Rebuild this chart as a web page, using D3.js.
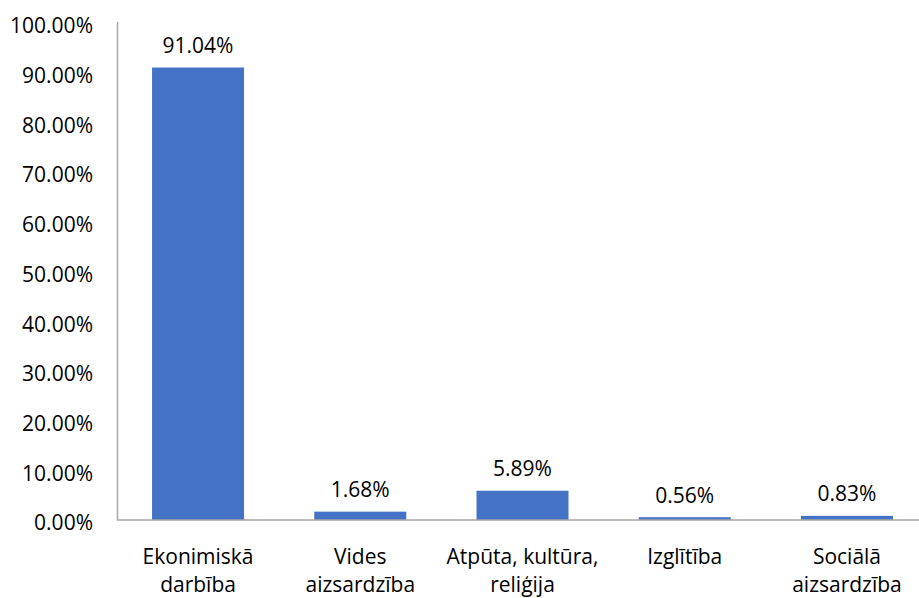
<!DOCTYPE html>
<html>
<head>
<meta charset="utf-8">
<script src="https://d3js.org/d3.v7.min.js"></script>
<style>
body { margin: 0; background: #fff; }
text { font-family: "Open Sans", "Liberation Sans", sans-serif; fill: #000; }
</style>
</head>
<body>
<svg id="chart" width="919" height="598"></svg>
<script>
// data
var categories = [["Ekonimiskā", "darbība"], ["Vides", "aizsardzība"], ["Atpūta, kultūra,", "reliģija"], ["Izglītība"], ["Sociālā", "aizsardzība"]];
var values = [0.9104, 0.0168, 0.0589, 0.0056, 0.0083];
var yTicks = [0, 0.1, 0.2, 0.3, 0.4, 0.5, 0.6, 0.7, 0.8, 0.9, 1.0];

var svg = d3.select("#chart");

var x = d3.scaleBand()
  .domain(d3.range(values.length))
  .range([117, 928])
  .paddingInner(0.433)
  .paddingOuter(0.216);

var y = d3.scaleLinear()
  .domain([0, 1])
  .range([520, 23]);

var pct = d3.format(".2%");

// y axis labels
svg.append("g").selectAll("text")
  .data(yTicks)
  .enter().append("text")
    .attr("x", 93)
    .attr("y", function(d) { return y(d) + 3; })
    .attr("dy", "0.35em")
    .attr("text-anchor", "end")
    .attr("font-size", "21px")
    .text(function(d) { return pct(d); });

// bars
svg.append("g").selectAll("rect")
  .data(values)
  .enter().append("rect")
    .attr("x", function(d, i) { return x(i); })
    .attr("y", function(d) { return y(d); })
    .attr("width", x.bandwidth())
    .attr("height", function(d) { return y(0) - y(d); })
    .attr("fill", "#4472C4");

// value labels
svg.append("g").selectAll("text")
  .data(values)
  .enter().append("text")
    .attr("x", function(d, i) { return x(i) + x.bandwidth() / 2; })
    .attr("y", function(d) { return y(d) - 22; })
    .attr("dy", "0.35em")
    .attr("text-anchor", "middle")
    .attr("font-size", "21px")
    .text(function(d) { return pct(d); });

// axis lines
svg.append("line")
  .attr("x1", 117.5).attr("x2", 117.5)
  .attr("y1", 22).attr("y2", y(0))
  .attr("stroke", "#a6a6a6").attr("stroke-width", 1.5);
svg.append("line")
  .attr("x1", 117).attr("x2", 919)
  .attr("y1", y(0)).attr("y2", y(0))
  .attr("stroke", "#a6a6a6").attr("stroke-width", 1.5);

// category labels
var cat = svg.append("g").selectAll("text")
  .data(categories)
  .enter().append("text")
    .attr("text-anchor", "middle")
    .attr("font-size", "21px")
    .attr("x", function(d, i) { return x(i) + x.bandwidth() / 2; })
    .attr("y", 557);
cat.selectAll("tspan")
  .data(function(d) { return d; })
  .enter().append("tspan")
    .attr("x", function() { return d3.select(this.parentNode).attr("x"); })
    .attr("dy", function(d, j) { return j === 0 ? "0.35em" : "28px"; })
    .text(function(d) { return d; });
</script>
</body>
</html>
